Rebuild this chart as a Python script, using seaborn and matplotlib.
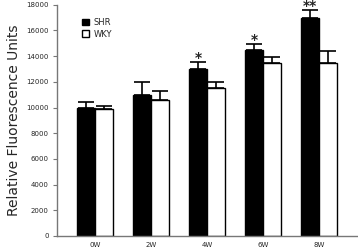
import matplotlib
matplotlib.use("Agg")
import matplotlib.pyplot as plt
import pandas as pd
import seaborn as sns

weeks = ["0W", "2W", "4W", "6W", "8W"]
strains = ["SHR", "WKY"]
shr_mean = [10000, 11000, 13000, 14500, 17000]
shr_err = [400, 950, 550, 450, 600]
wky_mean = [9850, 10600, 11500, 13500, 13500]
wky_err = [250, 700, 500, 450, 900]
shr_marks = ["", "", "*", "*", "**"]

df = pd.DataFrame({
    "Week": weeks * 2,
    "Strain": ["SHR"] * 5 + ["WKY"] * 5,
    "Value": shr_mean + wky_mean,
})

sns.set_style("white")
plt.rcParams["font.family"] = ["DejaVu Sans"]

fig = plt.figure(figsize=(3.58, 2.5), dpi=100)
ax = fig.add_axes([0.159, 0.056, 0.838, 0.925])

sns.barplot(data=df, x="Week", y="Value", hue="Strain", order=weeks, hue_order=strains,
            palette=["black", "white"], edgecolor="black", linewidth=1.0,
            width=0.64, errorbar=None, ax=ax)

# upper error bars + significance stars
errs = shr_err + wky_err
for i, bar in enumerate(ax.patches[:10]):
    x = bar.get_x() + bar.get_width() / 2
    h = bar.get_height()
    ax.errorbar(x, h, yerr=[[0], [errs[i]]], fmt="none", ecolor="black",
                elinewidth=1.2, capsize=5.5, capthick=1.2)
    if i < 5 and shr_marks[i]:
        ax.text(x, h + errs[i] - 250, shr_marks[i], ha="center", va="bottom",
                fontsize=10, fontweight="bold", clip_on=False)

ax.set_ylim(0, 18000)
ax.set_xlim(-0.68, 4.68)
ax.set_yticks(range(0, 18001, 2000))
ax.tick_params(axis="y", labelsize=5, length=3, width=0.8, color="#777777", direction="out", pad=3)
ax.tick_params(axis="x", labelsize=5, length=0, pad=4)
ax.yaxis.set_ticks_position("left")
for s in ["top", "right"]:
    ax.spines[s].set_visible(False)
for s in ["left", "bottom"]:
    ax.spines[s].set_color("#777777")
    ax.spines[s].set_linewidth(1.0)

ax.set_xlabel("")
ax.set_ylabel("Relative Fluorescence Units", fontsize=10, labelpad=4)

ax.legend(loc="upper left", bbox_to_anchor=(0.06, 0.975), frameon=False, fontsize=6,
          handlelength=0.8, handleheight=0.8, handletextpad=0.5, labelspacing=0.3)

fig.savefig("out.png", dpi=100)
